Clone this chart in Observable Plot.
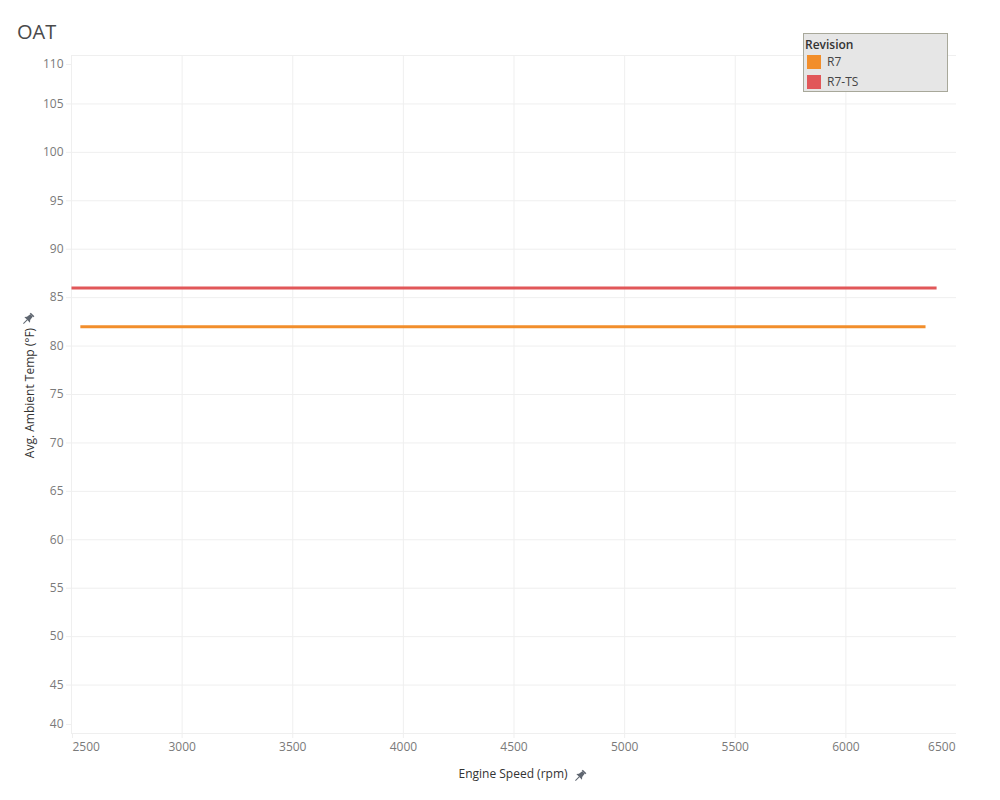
<!DOCTYPE html>
<html><head><meta charset="utf-8">
<script src="https://cdn.jsdelivr.net/npm/d3@7"></script>
<script src="https://cdn.jsdelivr.net/npm/@observablehq/plot@0.6"></script>
<style>
body{margin:0;background:#fff;font-family:"Open Sans",sans-serif;}
#wrap{position:relative;width:1000px;height:800px;overflow:hidden;}
#title{position:absolute;left:17px;top:19px;font-size:20px;color:#4a4a4a;line-height:26px;}
#legend{position:absolute;left:803px;top:33px;width:143px;height:57px;background:#e6e6e6;border:1px solid #a8a89a;}
#legend .lt{position:absolute;left:1px;top:3px;font-size:12px;font-weight:600;color:#333;line-height:16px;}
#legend .sw{position:absolute;left:3px;width:14px;height:14px;}
#legend .lb{position:absolute;left:23px;font-size:12px;color:#444;line-height:16px;}
.ylab{position:absolute;left:29px;top:393px;transform:translate(-50%,-50%) rotate(-90deg);font-size:12px;color:#333;white-space:nowrap;}
.xlab{position:absolute;left:513px;top:773px;transform:translate(-50%,-50%);font-size:12px;color:#333;white-space:nowrap;}
.pin{position:absolute;}
</style></head>
<body>
<div id="wrap">
<div id="chart"></div>
<div id="title">OAT</div>
<div id="legend"></div>
<div class="ylab">Avg. Ambient Temp (°F)</div>
<div class="xlab">Engine Speed (rpm)</div>
</div>
<script>
// ---- data ----
const revisions = ["R7", "R7-TS"];
const colors = ["#F28E2B", "#E15759"];
const r7Rpm = [2540, 6360];
const r7Temp = [82, 82];
const r7tsRpm = [2500, 6410];
const r7tsTemp = [86, 86];
const xTicks = [2500, 3000, 3500, 4000, 4500, 5000, 5500, 6000, 6500];
const yTicks = [40, 45, 50, 55, 60, 65, 70, 75, 80, 85, 90, 95, 100, 105, 110];

const rows = [
  ...r7Rpm.map((r, i) => ({rev: revisions[0], rpm: r, temp: r7Temp[i]})),
  ...r7tsRpm.map((r, i) => ({rev: revisions[1], rpm: r, temp: r7tsTemp[i]}))
];

const grid = "#efefef";
const tickFill = "#7a7a7a";
const fmt = d => String(d);

const plot = Plot.plot({
  width: 1000,
  height: 800,
  marginLeft: 71,
  marginRight: 44,
  marginTop: 55,
  marginBottom: 67,
  style: {fontFamily: "Open Sans, sans-serif", fontSize: "12px", background: "#fff"},
  x: {domain: [xTicks[0], xTicks[xTicks.length - 1]]},
  y: {domain: [yTicks[0], yTicks[yTicks.length - 1]]},
  color: {domain: revisions, range: colors},
  marks: [
    Plot.gridX(xTicks.slice(0, -1), {stroke: grid, strokeOpacity: 1}),
    Plot.gridY(yTicks, {stroke: grid, strokeOpacity: 1}),
    Plot.axisX(xTicks.slice(1, -1), {tickSize: 5, tickPadding: 4, stroke: grid, fill: tickFill, tickFormat: fmt, label: null}),
    Plot.axisX([xTicks[0]], {tickSize: 5, tickPadding: 4, stroke: grid, fill: tickFill, tickFormat: fmt, label: null, textAnchor: "start", dx: 1}),
    Plot.axisX([xTicks[xTicks.length - 1]], {tickSize: 0, tickPadding: 9, fill: tickFill, tickFormat: fmt, label: null, textAnchor: "end", dx: -1}),
    Plot.axisY(yTicks.slice(1, -1), {tickSize: 5, tickPadding: 3, stroke: grid, fill: tickFill, tickFormat: fmt, label: null}),
    Plot.axisY([yTicks[yTicks.length - 1]], {tickSize: 5, tickPadding: 3, stroke: grid, fill: tickFill, tickFormat: fmt, label: null, dy: 9}),
    Plot.axisY([yTicks[0]], {tickSize: 5, tickPadding: 3, stroke: grid, fill: tickFill, tickFormat: fmt, label: null, dy: -9}),
    Plot.line(rows, {x: "rpm", y: "temp", z: "rev", stroke: "rev", strokeWidth: 3, strokeLinecap: "butt"})
  ]
});
document.getElementById("chart").appendChild(plot);

// legend
const lg = document.getElementById("legend");
lg.innerHTML = `<div class="lt">Revision</div>` + revisions.map((r, i) =>
  `<div class="sw" style="top:${21 + i * 20}px;background:${colors[i]}"></div>` +
  `<div class="lb" style="top:${20 + i * 20}px">${r}</div>`).join("");

// pin icons
function pin(x, y) {
  const d = document.createElement("div");
  d.className = "pin";
  d.style.left = (x - 7) + "px";
  d.style.top = (y - 7) + "px";
  d.innerHTML = `<svg width="14" height="14" viewBox="0 0 14 14"><g transform="rotate(45 7 7)" fill="#5f6670">
    <rect x="4.5" y="0.5" width="5" height="1.6"/>
    <path d="M5.3 2.1 L8.7 2.1 L9.3 6.2 L11 8.2 L3 8.2 L4.7 6.2 Z"/>
    <rect x="6.5" y="8.2" width="1" height="5.3"/></g></svg>`;
  document.getElementById("wrap").appendChild(d);
}
pin(28, 316);
pin(580, 773);
</script>
</body></html>
